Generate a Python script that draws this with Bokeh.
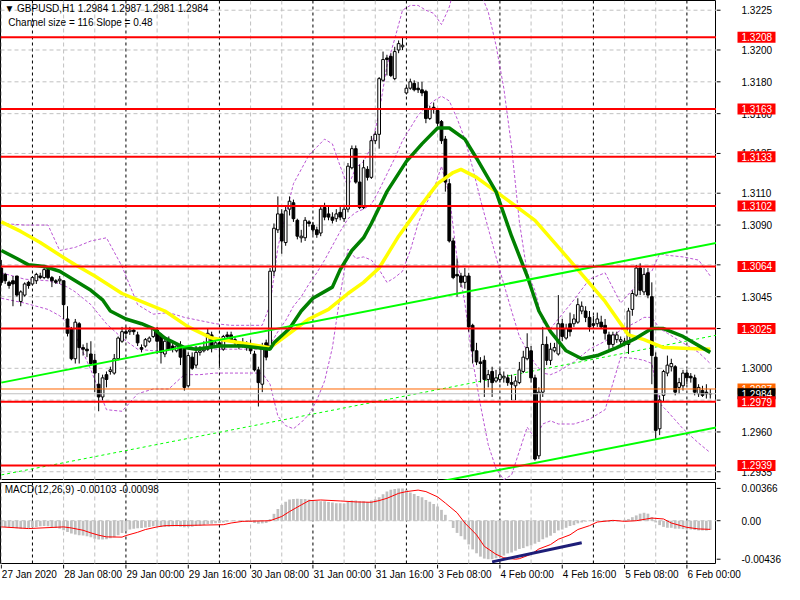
from bokeh.plotting import figure
from bokeh.models import Range1d, Label, Span, ColumnDataSource
from bokeh.layouts import column, row
from bokeh.embed import file_html
from bokeh.resources import INLINE
from bokeh.core.properties import value

FONT = "Liberation Sans"

# ---------------- price data (GBPUSD H1) ----------------
OPEN = [1.3063,1.3059,1.3054,1.3055,1.3058,1.3042,1.3046,1.3054,1.3053,1.3055,
        1.3058,1.3057,1.3062,1.3057,1.3055,1.3055,1.3055,1.3031,1.3025,1.3006,
        1.3028,1.3013,1.3012,1.3009,1.3005,1.2990,1.2982,1.2996,1.2998,1.2997,
        1.3006,1.3017,1.3023,1.3023,1.3024,1.3021,1.3013,1.3014,1.3017,1.3020,
        1.3024,1.3021,1.3009,1.3018,1.3014,1.3011,1.3014,1.3012,1.2989,1.3007,
        1.3002,1.3010,1.3011,1.3012,1.3021,1.3014,1.3016,1.3012,1.3021,1.3021,
        1.3018,1.3016,1.3016,1.3015,1.3015,1.3009,1.2999,1.2990,1.3016,1.3014,
        1.3061,1.3087,1.3097,1.3079,1.3100,1.3104,1.3093,1.3082,1.3082,1.3092,
        1.3090,1.3087,1.3085,1.3101,1.3097,1.3095,1.3094,1.3098,1.3094,1.3100,
        1.3126,1.3138,1.3117,1.3101,1.3125,1.3120,1.3143,1.3147,1.3181,1.3195,
        1.3196,1.3182,1.3200,1.3202,1.3173,1.3176,1.3179,1.3176,1.3175,1.3174,
        1.3157,1.3164,1.3162,1.3155,1.3144,1.3116,1.3080,1.3059,1.3058,1.3054,
        1.3058,1.3027,1.3011,1.3004,1.3005,1.2993,1.2998,1.2992,1.2993,1.2994,
        1.2994,1.2991,1.2989,1.2991,1.2998,1.3006,1.3011,1.2994,1.2945,1.2985,
        1.3015,1.3005,1.3011,1.3009,1.3028,1.3019,1.3028,1.3028,1.3029,1.3036,
        1.3036,1.3032,1.3028,1.3028,1.3029,1.3027,1.3021,1.3015,1.3018,1.3017,
        1.3016,1.3015,1.3037,1.3046,1.3063,1.3048,1.3060,1.3045,1.3007,1.2962,
        1.2983,1.2997,1.3001,1.3001,1.2988,1.2989,1.2997,1.2995,1.2994,1.2984,
        1.2986,1.2985,1.2984]
HIGH = [1.3068,1.3060,1.3055,1.3058,1.3058,1.3049,1.3054,1.3055,1.3058,1.3060,
        1.3060,1.3064,1.3063,1.3058,1.3056,1.3058,1.3055,1.3039,1.3026,1.3031,
        1.3029,1.3015,1.3016,1.3017,1.3009,1.2997,1.2996,1.2998,1.3001,1.3009,
        1.3020,1.3026,1.3026,1.3026,1.3025,1.3023,1.3015,1.3019,1.3020,1.3026,
        1.3026,1.3022,1.3020,1.3020,1.3016,1.3015,1.3017,1.3014,1.3010,1.3010,
        1.3014,1.3014,1.3017,1.3025,1.3023,1.3018,1.3017,1.3021,1.3023,1.3023,
        1.3020,1.3017,1.3019,1.3017,1.3018,1.3011,1.3001,1.3016,1.3018,1.3063,
        1.3091,1.3108,1.3100,1.3102,1.3108,1.3106,1.3094,1.3087,1.3095,1.3093,
        1.3092,1.3089,1.3102,1.3104,1.3102,1.3098,1.3100,1.3102,1.3102,1.3129,
        1.3140,1.3140,1.3128,1.3131,1.3127,1.3146,1.3149,1.3183,1.3199,1.3197,
        1.3198,1.3202,1.3206,1.3208,1.3177,1.3182,1.3181,1.3180,1.3180,1.3175,
        1.3165,1.3167,1.3163,1.3156,1.3146,1.3119,1.3082,1.3069,1.3060,1.3063,
        1.3060,1.3028,1.3016,1.3007,1.3008,1.2999,1.3001,1.2999,1.3000,1.2998,
        1.2996,1.2996,1.2995,1.3004,1.3011,1.3022,1.3014,1.2996,1.2988,1.3026,
        1.3020,1.3016,1.3016,1.3046,1.3031,1.3028,1.3035,1.3034,1.3044,1.3042,
        1.3039,1.3036,1.3033,1.3035,1.3033,1.3031,1.3023,1.3023,1.3023,1.3020,
        1.3019,1.3038,1.3049,1.3065,1.3066,1.3063,1.3063,1.3054,1.3010,1.2983,
        1.2999,1.3008,1.3006,1.3002,1.2994,1.2999,1.2999,1.2997,1.2996,1.2990,
        1.2989,1.2990,1.2987]
LOW = [1.3052,1.3053,1.3050,1.3039,1.3045,1.3039,1.3045,1.3050,1.3052,1.3053,
       1.3056,1.3056,1.3056,1.3051,1.3053,1.3053,1.3031,1.3020,1.3005,1.3003,
       1.3003,1.3008,1.3007,1.3002,1.2985,1.2973,1.2980,1.2988,1.2996,1.2996,
       1.3005,1.3016,1.3019,1.3021,1.3021,1.3014,1.3010,1.3013,1.3016,1.3019,
       1.3009,1.3003,1.3007,1.3011,1.3010,1.3010,1.3002,1.2986,1.2988,1.2999,
       1.3000,1.3008,1.3010,1.3011,1.3010,1.3013,1.3001,1.3011,1.3018,1.3017,
       1.3014,1.3012,1.3013,1.3011,1.3009,1.2998,1.2976,1.2985,1.3005,1.3012,
       1.3058,1.3085,1.3072,1.3077,1.3096,1.3092,1.3081,1.3079,1.3080,1.3089,
       1.3084,1.3082,1.3083,1.3093,1.3093,1.3091,1.3092,1.3093,1.3092,1.3098,
       1.3125,1.3116,1.3100,1.3100,1.3118,1.3119,1.3141,1.3138,1.3180,1.3184,
       1.3183,1.3181,1.3198,1.3200,1.3172,1.3175,1.3174,1.3173,1.3171,1.3154,
       1.3156,1.3160,1.3152,1.3141,1.3111,1.3079,1.3056,1.3045,1.3051,1.3050,
       1.3023,1.3003,1.3002,1.2991,1.2982,1.2988,1.2982,1.2991,1.2991,1.2991,
       1.2989,1.2980,1.2980,1.2990,1.2997,1.3005,1.2991,1.2942,1.2943,1.2982,
       1.3002,1.3002,1.3010,1.3008,1.3017,1.3018,1.3020,1.3026,1.3028,1.3034,
       1.3029,1.3023,1.3025,1.3026,1.3025,1.3018,1.3011,1.3013,1.3016,1.3015,
       1.3014,1.3009,1.3033,1.3045,1.3046,1.3046,1.3044,1.2990,1.2955,1.2958,
       1.2979,1.2995,1.2998,1.2983,1.2984,1.2986,1.2990,1.2991,1.2983,1.2982,
       1.2982,1.2981,1.2981]
CLOSE = [1.3054,1.3055,1.3052,1.3053,1.3046,1.3048,1.3053,1.3052,1.3057,1.3059,
         1.3057,1.3062,1.3057,1.3055,1.3054,1.3056,1.3040,1.3022,1.3006,1.3029,
         1.3013,1.3012,1.3011,1.3003,1.2997,1.2982,1.2994,1.2993,1.2999,1.3006,
         1.3019,1.3023,1.3022,1.3024,1.3023,1.3016,1.3012,1.3018,1.3019,1.3025,
         1.3017,1.3010,1.3017,1.3012,1.3012,1.3014,1.3007,1.2988,1.3008,1.3000,
         1.3010,1.3011,1.3013,1.3022,1.3013,1.3016,1.3014,1.3020,1.3020,1.3018,
         1.3016,1.3014,1.3015,1.3013,1.3011,1.2999,1.2991,1.3014,1.3007,1.3061,
         1.3088,1.3097,1.3080,1.3099,1.3105,1.3094,1.3083,1.3083,1.3093,1.3091,
         1.3087,1.3084,1.3100,1.3095,1.3095,1.3093,1.3097,1.3095,1.3100,1.3127,
         1.3138,1.3117,1.3101,1.3126,1.3120,1.3143,1.3147,1.3182,1.3194,1.3194,
         1.3184,1.3199,1.3204,1.3203,1.3176,1.3180,1.3175,1.3175,1.3173,1.3157,
         1.3163,1.3163,1.3154,1.3143,1.3117,1.3080,1.3057,1.3058,1.3054,1.3058,
         1.3026,1.3011,1.3004,1.3003,1.2993,1.2996,1.2991,1.2994,1.2996,1.2995,
         1.2991,1.2990,1.2992,1.2999,1.3007,1.3013,1.2994,1.2943,1.2985,1.3015,
         1.3005,1.3012,1.3013,1.3028,1.3020,1.3025,1.3023,1.3031,1.3040,1.3039,
         1.3032,1.3026,1.3027,1.3031,1.3026,1.3022,1.3015,1.3021,1.3021,1.3018,
         1.3017,1.3036,1.3047,1.3063,1.3049,1.3059,1.3046,1.3008,1.2961,1.2980,
         1.2998,1.3002,1.3003,1.2985,1.2991,1.2997,1.2994,1.2994,1.2985,1.2988,
         1.2983,1.2984,1.2984]

# moving averages (read at bar positions)
YELLOW_BAR = [0, 5, 10, 17, 19, 24, 31, 37, 42, 48, 54, 59, 64, 69, 74, 79, 84, 89, 93, 97,
              102, 107, 112, 116, 118, 122, 127, 132, 137, 142, 148, 155, 161, 165, 170, 182]
YELLOW = [1.3092, 1.3086, 1.3079, 1.3068, 1.3065, 1.3058, 1.3047, 1.3041, 1.3036, 1.3026,
          1.3019, 1.3017, 1.3015, 1.3013, 1.3022, 1.3031, 1.3037, 1.3047, 1.3054, 1.3063,
          1.3083, 1.3100, 1.3116, 1.3123, 1.3125, 1.3120, 1.3111, 1.3102, 1.3093, 1.3079,
          1.3062, 1.3042, 1.3021, 1.3018, 1.3013, 1.3012]
GREEN_BAR = [0, 4, 7, 11, 15, 19, 23, 26, 28, 32, 36, 39, 42, 47, 50, 56, 62, 69, 70, 74,
             77, 80, 85, 87, 90, 93, 95, 99, 104, 108, 112, 115, 119, 122, 127, 131, 135, 138,
             141, 145, 149, 153, 158, 163, 167, 170, 175, 182]
GREEN = [1.3074, 1.3069, 1.3065, 1.3064, 1.3061, 1.3055, 1.3049, 1.3043, 1.3036, 1.3031,
         1.3028, 1.3025, 1.3019, 1.3013, 1.3012, 1.3014, 1.3014, 1.3012, 1.3016, 1.3025,
         1.3036, 1.3044, 1.3051, 1.3062, 1.3074, 1.3082, 1.3091, 1.3111, 1.3130, 1.3141,
         1.3151, 1.3151, 1.3144, 1.3132, 1.3111, 1.3083, 1.3058, 1.3036, 1.3023, 1.3011,
         1.3006, 1.3008, 1.3013, 1.3019, 1.3025, 1.3025, 1.3020, 1.3010]

# Bollinger bands (purple dashed), read at bar positions
BB_BAR = [0, 6, 12, 15, 17, 19, 23, 27, 31, 35, 39, 43, 47, 51, 55, 59, 63, 67, 69, 71,
          73, 75, 77, 79, 81, 83, 85, 87, 89, 91, 93, 95, 97, 99, 101, 103, 105, 107, 109, 111,
          113, 115, 117, 119, 121, 123, 125, 127, 129, 131, 133, 135, 137, 139, 141, 143, 147, 151, 155, 159,
          163, 165, 167, 169, 171, 175, 179, 182]
BB_UP = [1.3091, 1.3090, 1.3090, 1.3074, 1.3075, 1.3076, 1.3080, 1.3082, 1.3064, 1.3040,
         1.3034, 1.3035, 1.3032, 1.3030, 1.3028, 1.3027, 1.3027, 1.3027, 1.3040, 1.3076,
         1.3096, 1.3116, 1.3125, 1.3134, 1.3139, 1.3144, 1.3141, 1.3127, 1.3114, 1.3126,
         1.3130, 1.3139, 1.3161, 1.3190, 1.3207, 1.3225, 1.3228, 1.3228, 1.3225, 1.3223,
         1.3216, 1.3227, 1.3246, 1.3247, 1.3248, 1.3236, 1.3224, 1.3203, 1.3176, 1.3139,
         1.3092, 1.3060, 1.3049, 1.3029, 1.3025, 1.3031, 1.3043, 1.3056, 1.3060, 1.3041,
         1.3052, 1.3059, 1.3061, 1.3072, 1.3071, 1.3070, 1.3068, 1.3058]
BB_MID = [1.3060, 1.3056, 1.3055, 1.3053, 1.3051, 1.3048, 1.3040, 1.3028, 1.3019, 1.3012,
          1.3011, 1.3011, 1.3014, 1.3013, 1.3012, 1.3012, 1.3012, 1.3012, 1.3015, 1.3023,
          1.3030, 1.3039, 1.3045, 1.3053, 1.3060, 1.3068, 1.3077, 1.3086, 1.3094, 1.3098,
          1.3100, 1.3103, 1.3112, 1.3122, 1.3132, 1.3143, 1.3151, 1.3159, 1.3164, 1.3168,
          1.3171, 1.3168, 1.3157, 1.3144, 1.3126, 1.3106, 1.3088, 1.3070, 1.3053, 1.3036,
          1.3020, 1.3011, 1.3003, 1.2997, 1.2996, 1.2998, 1.3004, 1.3012, 1.3017, 1.3024,
          1.3029, 1.3032, 1.3032, 1.3025, 1.3022, 1.3016, 1.3010, 1.3003]
BB_LO = [1.3044, 1.3041, 1.3037, 1.3033, 1.3028, 1.3021, 1.2999, 1.2974, 1.2973, 1.2984,
         1.2987, 1.2987, 1.2996, 1.2996, 1.2997, 1.2997, 1.2997, 1.2997, 1.2990, 1.2970,
         1.2964, 1.2962, 1.2966, 1.2971, 1.2980, 1.2992, 1.3013, 1.3046, 1.3075, 1.3069,
         1.3070, 1.3068, 1.3062, 1.3054, 1.3057, 1.3061, 1.3074, 1.3091, 1.3103, 1.3112,
         1.3127, 1.3109, 1.3069, 1.3041, 1.3005, 1.2977, 1.2952, 1.2937, 1.2930, 1.2933,
         1.2948, 1.2963, 1.2956, 1.2965, 1.2967, 1.2965, 1.2965, 1.2968, 1.2974, 1.3007,
         1.3006, 1.3005, 1.3003, 1.2978, 1.2973, 1.2962, 1.2953, 1.2947]

# equidistant channel (size 116 pips, slope 0.48 pip/bar)
CHANNEL_BAR = [0, 184]
CHANNEL_TOP = [1.2991, 1.3079]
CHANNEL_SIZE = 0.0116

LEVELS = [1.3208, 1.3163, 1.3133, 1.3102, 1.3064, 1.3025, 1.2979, 1.2939]
ASK = 1.2987
BID = 1.2984
PRICE_TICKS = [1.3225, 1.3200, 1.3180, 1.3160, 1.3135, 1.3110, 1.3090, 1.3065, 1.3045,
               1.3025, 1.3000, 1.2980, 1.2960, 1.2935]

# ---------------- MACD(12,26,9) ----------------
HIST = [-0.00063,-0.00070,-0.00075,-0.00082,-0.00086,-0.00090,-0.00086,-0.00082,-0.00075,-0.00070,
        -0.00063,-0.00060,-0.00063,-0.00070,-0.00082,-0.00090,-0.00108,-0.00127,-0.00145,-0.00157,
        -0.00164,-0.00168,-0.00175,-0.00187,-0.00205,-0.00213,-0.00213,-0.00210,-0.00198,-0.00187,
        -0.00164,-0.00138,-0.00119,-0.00100,-0.00090,-0.00086,-0.00082,-0.00078,-0.00070,-0.00063,
        -0.00063,-0.00070,-0.00070,-0.00067,-0.00063,-0.00063,-0.00067,-0.00075,-0.00070,-0.00067,
        -0.00060,-0.00056,-0.00048,-0.00037,-0.00034,-0.00030,-0.00026,-0.00019,-0.00011,-0.00007,
        -0.00007,-0.00007,-0.00011,-0.00011,-0.00015,-0.00026,-0.00034,-0.00030,-0.00026,0.00019,
        0.00078,0.00134,0.00179,0.00216,0.00239,0.00246,0.00250,0.00246,0.00246,0.00239,
        0.00231,0.00224,0.00220,0.00220,0.00213,0.00205,0.00198,0.00198,0.00194,0.00213,
        0.00228,0.00228,0.00220,0.00220,0.00213,0.00228,0.00242,0.00265,0.00300,0.00330,
        0.00350,0.00360,0.00366,0.00366,0.00350,0.00320,0.00302,0.00280,0.00265,0.00235,
        0.00216,0.00190,0.00160,0.00123,0.00067,0.00000,-0.00082,-0.00138,-0.00175,-0.00213,
        -0.00269,-0.00325,-0.00369,-0.00407,-0.00429,-0.00436,-0.00436,-0.00425,-0.00410,-0.00395,
        -0.00370,-0.00360,-0.00340,-0.00320,-0.00310,-0.00290,-0.00280,-0.00260,-0.00240,-0.00210,
        -0.00190,-0.00170,-0.00140,-0.00110,-0.00100,-0.00080,-0.00060,-0.00050,-0.00030,-0.00020,
        -0.00010,0.00000,0.00005,0.00000,-0.00003,-0.00010,-0.00015,-0.00010,-0.00005,0.00000,
        0.00010,0.00020,0.00040,0.00060,0.00080,0.00090,0.00080,0.00040,-0.00020,-0.00050,
        -0.00070,-0.00080,-0.00080,-0.00090,-0.00090,-0.00095,-0.00100,-0.00100,-0.00105,-0.00110,
        -0.00110,-0.00112,-0.00103]
SIGNAL_BAR = [0, 7, 16, 18, 21, 23, 25, 27, 31, 32,
              35, 37, 40, 42, 49, 57, 59, 62, 69, 72,
              74, 77, 79, 82, 87, 91, 95, 97, 99, 102,
              104, 107, 109, 112, 114, 117, 119, 122, 124, 127,
              129, 132, 133, 136, 138, 141, 143, 146, 148, 151,
              153, 157, 160, 163, 167, 170, 172, 176, 179, 182]
SIGNAL = [-0.00070, -0.00089, -0.00070, -0.00082, -0.00108, -0.00138, -0.00164, -0.00183, -0.00186, -0.00168,
          -0.00131, -0.00100, -0.00070, -0.00056, -0.00052, -0.00045, -0.00026, -0.00007, 0.00000, 0.00048,
          0.00104, 0.00179, 0.00227, 0.00235, 0.00224, 0.00213, 0.00209, 0.00228, 0.00254, 0.00310,
          0.00330, 0.00347, 0.00330, 0.00270, 0.00200, 0.00090, -0.00026, -0.00160, -0.00290, -0.00380,
          -0.00420, -0.00436, -0.00430, -0.00380, -0.00320, -0.00270, -0.00210, -0.00160, -0.00100, -0.00056,
          -0.00015, 0.00004, -0.00007, 0.00000, 0.00030, 0.00020, -0.00026, -0.00075, -0.00093, -0.00098]
MACD_TREND_BAR = [126, 149]
MACD_TREND = [-0.00466, -0.00250]
MACD_TICKS = [0.00366, 0.0, -0.00436]
MACD_TICK_LABELS = ["0.00366", "0.00", "-0.00436"]

TIME_TICKS = [0, 16, 32, 48, 64, 80, 96, 112, 128, 144, 160, 176]
TIME_LABELS = ["27 Jan 2020", "28 Jan 08:00", "29 Jan 00:00", "29 Jan 16:00", "30 Jan 08:00",
               "31 Jan 00:00", "31 Jan 16:00", "3 Feb 08:00", "4 Feb 00:00", "4 Feb 16:00",
               "5 Feb 08:00", "6 Feb 00:00"]
DAY_BREAKS = [8, 32, 56, 80, 104, 128, 152, 176]

# ---------------- layout constants ----------------
FRAME_W = 716
AXIS_W = 68
MAIN_H = 480
MACD_H = 82
TIME_H = 18
LABEL_X = 25
TAG_X0 = 21
TAG_W = 38
X0, X1 = -0.2, 183.6
GRID_COLOR = "#C0C0C0"
n = len(CLOSE)
bars = list(range(n))
grid_bars = [b for b in range(0, 184, 8) if b not in DAY_BREAKS]


def make_fig(w, h, xr, yr, top=0):
    f = figure(frame_width=w, frame_height=h, x_range=xr, y_range=yr,
               output_backend="svg", toolbar_location=None,
               x_axis_location=None, y_axis_location=None,
               min_border=0, min_border_left=0, min_border_right=0,
               min_border_top=top, min_border_bottom=0,
               background_fill_color="white", border_fill_color="white")
    f.grid.visible = False
    f.outline_line_color = None
    return f


def add_vertical_grid(fig):
    for b in grid_bars:
        fig.add_layout(Span(location=b, dimension="height", line_color=GRID_COLOR,
                            line_dash="4 3", line_width=1, level="underlay"))
    for b in DAY_BREAKS:
        fig.add_layout(Span(location=b, dimension="height", line_color="black",
                            line_dash="3 3", line_width=1, level="underlay"))


def axis_panel(fig, ticks, labels):
    fig.segment(x0=[0] * len(ticks), x1=[4] * len(ticks), y0=ticks, y1=ticks,
                line_color="black", line_width=1)
    fig.text(x=[LABEL_X] * len(ticks), y=ticks, text=labels, text_font=value(FONT),
             text_font_size=value("10px"), text_color="black",
             text_baseline="middle", text_align="left")


def tags(fig, ys, labels, colors):
    fig.rect(x=[TAG_X0 + TAG_W / 2] * len(ys), y=ys, width=TAG_W, height=11,
             height_units="screen", fill_color=colors, line_color=None)
    fig.text(x=[LABEL_X] * len(ys), y=ys, text=labels, text_font=value(FONT),
             text_font_size=value("10px"), text_color="white",
             text_baseline="middle", text_align="left")


# ---------------- main price panel ----------------
x_range = Range1d(X0, X1)
y_range = Range1d(1.29295, 1.32311)
p = make_fig(FRAME_W, MAIN_H, x_range, y_range)
p.outline_line_color = "black"
add_vertical_grid(p)
for t in PRICE_TICKS:
    p.add_layout(Span(location=t, dimension="width", line_color=GRID_COLOR,
                      line_dash="4 3", line_width=1, level="underlay"))

# Bollinger bands
for band in (BB_UP, BB_MID, BB_LO):
    p.line(BB_BAR, band, line_color="#BA55D3", line_width=1, line_dash="3 2")

# channel
ch_low = [v - CHANNEL_SIZE for v in CHANNEL_TOP]
ch_mid = [v - CHANNEL_SIZE / 2 for v in CHANNEL_TOP]
p.line(CHANNEL_BAR, ch_mid, line_color="#00FF00", line_width=1, line_dash="3 3")

# candles
tops = [max(o, c) for o, c in zip(OPEN, CLOSE)]
bots = [min(o, c) for o, c in zip(OPEN, CLOSE)]
fills = ["white" if c >= o else "black" for o, c in zip(OPEN, CLOSE)]
src = ColumnDataSource(dict(x=bars, h=HIGH, l=LOW, top=tops, bot=bots, fill=fills))
p.segment(x0="x", y0="h", x1="x", y1="l", source=src, line_color="black", line_width=1)
p.vbar(x="x", width=0.7, top="top", bottom="bot", source=src,
       fill_color="fill", line_color="black", line_width=1)

# moving averages
p.line(YELLOW_BAR, YELLOW, line_color="#FFFF00", line_width=3.5)
p.line(GREEN_BAR, GREEN, line_color="#008000", line_width=3.5)

p.line(CHANNEL_BAR, CHANNEL_TOP, line_color="#00FF00", line_width=2)
p.line(CHANNEL_BAR, ch_low, line_color="#00FF00", line_width=2)

# horizontal levels
for lv in LEVELS:
    p.add_layout(Span(location=lv, dimension="width", line_color="#FF0000", line_width=2))
p.add_layout(Span(location=ASK, dimension="width", line_color="#FF6600", line_width=1))
p.add_layout(Span(location=BID, dimension="width", line_color="#C0C0C0", line_width=1))

# header texts
p.add_layout(Label(x=0.8, y=1.32262, text="▼ GBPUSD,H1  1.2984 1.2987 1.2981 1.2984",
                   text_font=FONT, text_font_size="10px", text_color="black",
                   text_baseline="middle"))
p.add_layout(Label(x=1.8, y=1.32175, text="Channel size = 116 Slope = 0.48",
                   text_font=FONT, text_font_size="10px", text_color="black",
                   text_baseline="middle"))

# price axis panel
pa = make_fig(AXIS_W, MAIN_H, Range1d(0, AXIS_W), y_range)
axis_panel(pa, PRICE_TICKS, [f"{t:.4f}" for t in PRICE_TICKS])
tag_levels = [lv for lv in LEVELS if lv != 1.2979]
tags(pa, tag_levels, [f"{lv:.4f}" for lv in tag_levels], ["#FF0000"] * len(tag_levels))
tags(pa, [ASK], [f"{ASK:.4f}"], ["#FF6600"])
tags(pa, [BID], [f"{BID:.4f}"], ["black"])
tags(pa, [1.2979], ["1.2979"], ["#FF0000"])

# ---------------- MACD panel ----------------
m_yr = Range1d(-0.00496, 0.00433)
m = make_fig(FRAME_W, MACD_H, x_range, m_yr, top=2)
m.outline_line_color = "black"
add_vertical_grid(m)
m.add_layout(Span(location=0, dimension="width", line_color=GRID_COLOR,
                  line_dash="4 3", line_width=1, level="underlay"))
m.vbar(x=bars, width=0.7, top=HIST, bottom=0, fill_color="#C0C0C0", line_color=None)
m.line(SIGNAL_BAR, SIGNAL, line_color="#FF0000", line_width=1)
m.line(MACD_TREND_BAR, MACD_TREND, line_color="#1E1E78", line_width=3)
m.add_layout(Label(x=0.9, y=0.0035, text="MACD(12,26,9) -0.00103 -0.00098",
                   text_font=FONT, text_font_size="10px", text_color="black",
                   text_baseline="middle"))

ma = make_fig(AXIS_W, MACD_H, Range1d(0, AXIS_W), m_yr, top=2)
axis_panel(ma, MACD_TICKS, MACD_TICK_LABELS)

# ---------------- time axis strip ----------------
bars_per_px = (X1 - X0) / FRAME_W
t_xr = Range1d(X0, X0 + bars_per_px * (FRAME_W + AXIS_W))
mt = make_fig(FRAME_W + AXIS_W, TIME_H, t_xr, Range1d(0, TIME_H))
mt.segment(x0=TIME_TICKS, x1=TIME_TICKS, y0=[TIME_H] * len(TIME_TICKS),
           y1=[TIME_H - 4] * len(TIME_TICKS), line_color="black", line_width=1)
mt.text(x=[t + 0.15 for t in TIME_TICKS], y=[TIME_H - 10] * len(TIME_TICKS), text=TIME_LABELS,
        text_font=value(FONT), text_font_size=value("10px"), text_color="black",
        text_baseline="middle", text_align="left")

layout = column(row(p, pa, spacing=0), row(m, ma, spacing=0), mt, spacing=0)
open("out.html", "w").write(file_html(layout, INLINE))
